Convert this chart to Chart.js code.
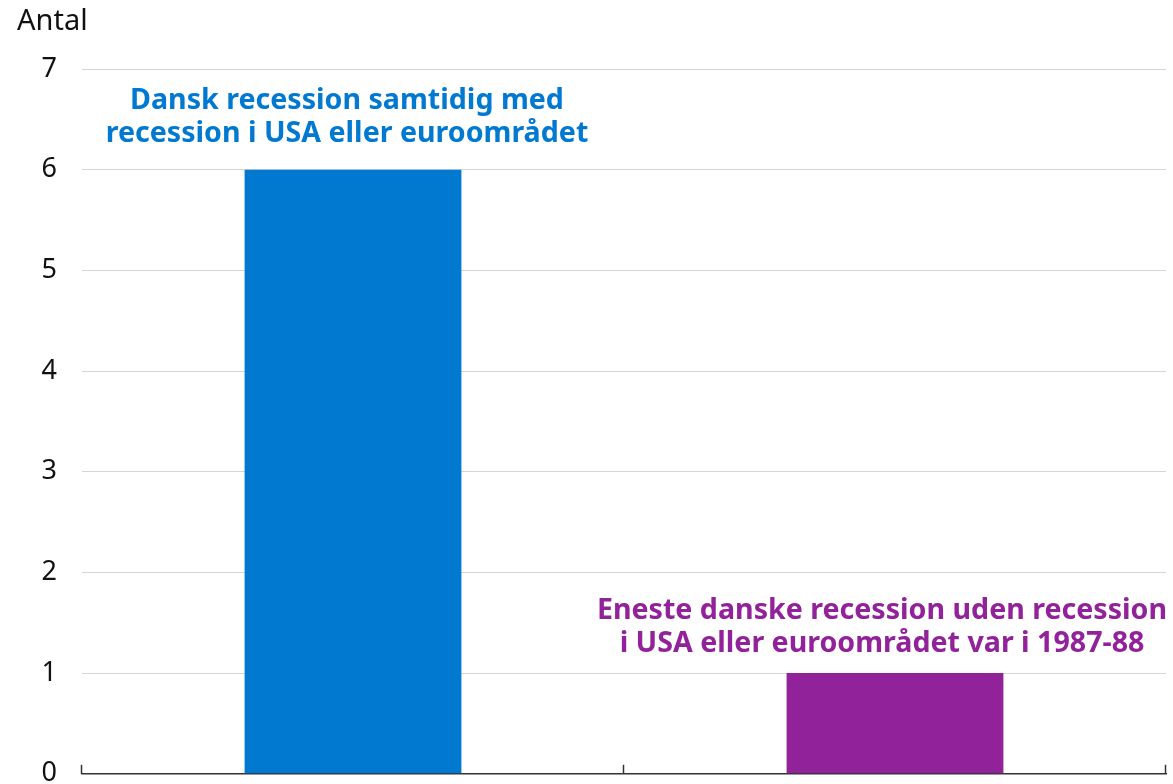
<!DOCTYPE html>
<html>
<head>
<meta charset="utf-8">
<script src="https://cdn.jsdelivr.net/npm/chart.js@4/dist/chart.umd.min.js"></script>
<style>
    html, body { margin: 0; padding: 0; background: #fff; overflow: hidden; }
    #wrap { width: 1173px; height: 815px; }
</style>
</head>
<body>
<div id="wrap"><canvas id="chart" width="1173" height="815"></canvas></div>
<script>
// Chart data
const categories = ['Samtidig med USA/euroområdet', 'Uden recession i USA/euroområdet'];
const counts = [6, 1];
const barColors = ['#0279d1', '#92229a'];
const barLabels = [
    ['Dansk recession samtidig med', 'recession i USA eller euroområdet'],
    ['Eneste danske recession uden recession', 'i USA eller euroområdet var i 1987-88']
];
const yTitle = 'Antal';

const fontFamily = '"Noto Sans", "Open Sans", sans-serif';

// Axis title in the top left corner
const axisTitlePlugin = {
    id: 'axisTitle',
    afterDraw(chart) {
        const ctx = chart.ctx;
        ctx.save();
        ctx.font = '29px ' + fontFamily;
        ctx.fillStyle = '#111';
        ctx.textAlign = 'left';
        ctx.textBaseline = 'middle';
        ctx.fillText(yTitle, 17, 22);
        ctx.restore();
    }
};

// Small upward tick marks at the category boundaries
const boundaryTicksPlugin = {
    id: 'boundaryTicks',
    afterDraw(chart) {
        const x = chart.scales.x;
        const ctx = chart.ctx;
        const half = (x.getPixelForValue(1) - x.getPixelForValue(0)) / 2;
        const bottom = chart.chartArea.bottom;
        ctx.save();
        ctx.strokeStyle = '#333';
        ctx.lineWidth = 1.5;
        for (let i = 0; i <= categories.length; i++) {
            const px = Math.round(x.getPixelForValue(0) - half + i * half * 2) - 0.5;
            ctx.beginPath();
            ctx.moveTo(px, bottom);
            ctx.lineTo(px, bottom - 9);
            ctx.stroke();
        }
        ctx.restore();
    }
};

// Coloured text above each bar (offsets relative to the bar top centre)
const textOffsets = [{ dx: -6, dy: 36, lh: 33 }, { dx: -13, dy: 29, lh: 33 }];
const barTextPlugin = {
    id: 'barText',
    afterDatasetsDraw(chart) {
        const meta = chart.getDatasetMeta(0);
        const ctx = chart.ctx;
        ctx.save();
        ctx.font = 'bold 28.6px ' + fontFamily;
        ctx.textAlign = 'center';
        ctx.textBaseline = 'middle';
        meta.data.forEach((bar, i) => {
            ctx.fillStyle = barColors[i];
            const lines = barLabels[i];
            const off = textOffsets[i];
            lines.forEach((line, j) => {
                const y = bar.y - off.dy - (lines.length - 1 - j) * off.lh;
                ctx.fillText(line, bar.x + off.dx, y);
            });
        });
        ctx.restore();
    }
};

const ctx = document.getElementById('chart').getContext('2d');
const chart = new Chart(ctx, {
    type: 'bar',
    data: {
        labels: categories,
        datasets: [{
            data: counts,
            backgroundColor: barColors,
            borderWidth: 0,
            barPercentage: 0.8,
            categoryPercentage: 0.5
        }]
    },
    options: {
        responsive: false,
        animation: false,
        layout: {
            padding: { top: 69, right: 7, bottom: 11, left: 0 }
        },
        plugins: {
            legend: { display: false },
            tooltip: { enabled: false }
        },
        scales: {
            x: {
                ticks: { display: false },
                grid: { display: false, drawTicks: false },
                border: { display: true, color: '#333', width: 1.5 }
            },
            y: {
                min: 0,
                max: 7,
                ticks: {
                    stepSize: 1,
                    padding: 25,
                    color: '#111',
                    font: { family: fontFamily, size: 27 }
                },
                grid: { color: '#d4d4d4', lineWidth: 1, drawTicks: false },
                border: { display: false },
                afterFit(scale) {
                    scale.width = 82;
                }
            }
        }
    },
    plugins: [axisTitlePlugin, boundaryTicksPlugin, barTextPlugin]
});
</script>
</body>
</html>
